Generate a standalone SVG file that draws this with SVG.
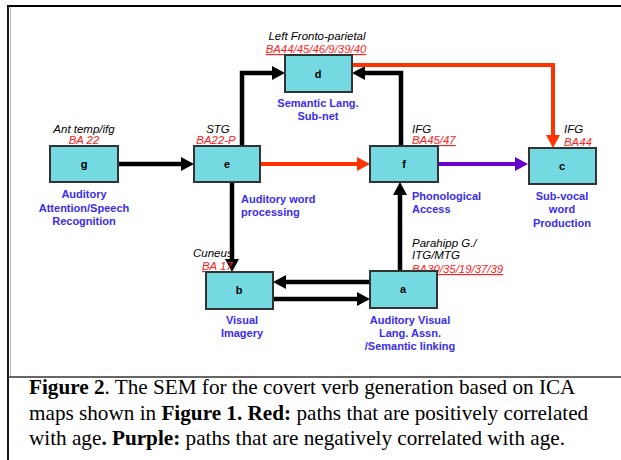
<svg xmlns="http://www.w3.org/2000/svg" width="621" height="460" viewBox="0 0 621 460">
<defs>
<marker id="ab" markerUnits="userSpaceOnUse" markerWidth="14" markerHeight="16" refX="0" refY="7" orient="auto" viewBox="0 0 14 14"><path d="M0,0 L13,7 L0,14 z" fill="#000"/></marker>
<marker id="ar" markerUnits="userSpaceOnUse" markerWidth="14" markerHeight="16" refX="0" refY="7" orient="auto" viewBox="0 0 14 14"><path d="M0,0 L13,7 L0,14 z" fill="#ff3300"/></marker>
<marker id="ap" markerUnits="userSpaceOnUse" markerWidth="14" markerHeight="16" refX="0" refY="7" orient="auto" viewBox="0 0 14 14"><path d="M0,0 L13,7 L0,14 z" fill="#6600cc"/></marker>
</defs>
<style>
.box{fill:#74d9e0;stroke:#333;stroke-width:2}
.id{font-family:"Liberation Sans",Arial,sans-serif;font-weight:bold;font-size:11px;fill:#000;text-anchor:middle}
.reg{font-family:"Liberation Sans",Arial,sans-serif;font-style:italic;font-size:11.5px;fill:#000}
.ba{font-family:"Liberation Sans",Arial,sans-serif;font-style:italic;font-size:11.4px;fill:#ff2020;text-decoration:underline}
.fn{font-family:"Liberation Sans",Arial,sans-serif;font-weight:bold;font-size:11px;fill:#3a2cf2}
.mid{text-anchor:middle}
.blk{fill:none;stroke:#000;stroke-width:4.5}
.red{fill:none;stroke:#ff3300;stroke-width:4}
.pur{fill:none;stroke:#6600cc;stroke-width:4}
.cap{font-family:"Liberation Serif","Times New Roman",serif;font-size:21.2px;fill:#000}
</style>
<rect x="0" y="0" width="621" height="460" fill="#fff"/>
<g id="frame">
<line x1="7" y1="6" x2="621" y2="6" stroke="#000" stroke-width="2"/>
<line x1="8" y1="5" x2="8" y2="460" stroke="#000" stroke-width="1.8"/>
<line x1="10.5" y1="7" x2="10.5" y2="377" stroke="#bbb" stroke-width="1"/>
<line x1="8" y1="377" x2="621" y2="377" stroke="#333" stroke-width="1.3"/>
</g>
<g id="connectors">
<path class="blk" d="M118,164 H181" marker-end="url(#ab)"/>
<path class="blk" d="M242,146 V73 H272" marker-end="url(#ab)"/>
<path class="blk" d="M401,146 V73 H365" marker-end="url(#ab)"/>
<path class="red" d="M352,65 H553 V135" stroke-width="3.5" marker-end="url(#ar)"/>
<path class="red" d="M260,164 H357" marker-end="url(#ar)"/>
<path class="pur" d="M438,164 H515" marker-end="url(#ap)"/>
<path class="blk" d="M232,182 V259" stroke-width="3.5" marker-end="url(#ab)"/>
<path class="blk" d="M400,271 V195" marker-end="url(#ab)"/>
<path class="blk" d="M370,282 H286" marker-end="url(#ab)"/>
<path class="blk" d="M273,299 H357" marker-end="url(#ab)"/>
</g>
<g id="node-d">
<text class="reg mid" x="317" y="40">Left Fronto-parietal</text>
<text class="ba mid" x="316" y="53">BA44/45/46/9/39/40</text>
<rect class="box" x="285" y="55" width="67" height="37"/>
<text class="id" x="318" y="78">d</text>
<text class="fn mid" x="318" y="107">Semantic Lang.</text>
<text class="fn mid" x="318" y="120">Sub-net</text>
</g>
<g id="node-g">
<text class="reg mid" x="84" y="133">Ant temp/ifg</text>
<text class="ba mid" x="84" y="144">BA 22</text>
<rect class="box" x="50" y="146" width="68" height="36"/>
<text class="id" x="84" y="168">g</text>
<text class="fn mid" x="84" y="198">Auditory</text>
<text class="fn mid" x="84" y="212">Attention/Speech</text>
<text class="fn mid" x="84" y="225">Recognition</text>
</g>
<g id="node-e">
<text class="reg mid" x="218" y="133">STG</text>
<text class="ba mid" x="216" y="144">BA22-P</text>
<rect class="box" x="194" y="146" width="66" height="36"/>
<text class="id" x="227" y="168">e</text>
<text class="fn" x="241" y="203">Auditory word</text>
<text class="fn" x="241" y="216">processing</text>
</g>
<g id="node-f">
<text class="reg" x="412" y="133">IFG</text>
<text class="ba" x="412" y="144">BA45/47</text>
<rect class="box" x="370" y="146" width="68" height="36"/>
<text class="id" x="404" y="168">f</text>
<text class="fn" x="412" y="200">Phonological</text>
<text class="fn" x="412" y="213">Access</text>
</g>
<g id="node-c">
<text class="reg" x="564" y="133">IFG</text>
<text class="ba" x="564" y="146">BA44</text>
<rect class="box" x="529" y="148" width="67" height="36"/>
<text class="id" x="562" y="170">c</text>
<text class="fn mid" x="562" y="200">Sub-vocal</text>
<text class="fn mid" x="562" y="213">word</text>
<text class="fn mid" x="562" y="227">Production</text>
</g>
<g id="node-b">
<text class="reg" x="193" y="257">Cuneus</text>
<text class="ba" x="202" y="270">BA 17</text>
<rect class="box" x="206" y="272" width="67" height="37"/>
<text class="id" x="239" y="294">b</text>
<text class="fn mid" x="242" y="324">Visual</text>
<text class="fn mid" x="242" y="337">Imagery</text>
</g>
<g id="node-a">
<text class="reg" x="412" y="247">Parahipp G./</text>
<text class="reg" x="412" y="259">ITG/MTG</text>
<text class="ba" x="412" y="273">BA30/35/19/37/39</text>
<rect class="box" x="370" y="271" width="67" height="37"/>
<text class="id" x="403" y="293">a</text>
<text class="fn mid" x="410" y="324">Auditory Visual</text>
<text class="fn mid" x="410" y="337">Lang. Assn.</text>
<text class="fn mid" x="410" y="350">/Semantic linking</text>
</g>
<g id="caption">
<text class="cap" x="29" y="394"><tspan font-weight="bold">Figure 2</tspan>. The SEM for the covert verb generation based on ICA</text>
<text class="cap" x="29" y="420">maps shown in <tspan font-weight="bold">Figure 1. Red:</tspan> paths that are positively correlated</text>
<text class="cap" x="29" y="445">with age<tspan font-weight="bold">. Purple:</tspan> paths that are negatively correlated with age.</text>
</g>
</svg>
